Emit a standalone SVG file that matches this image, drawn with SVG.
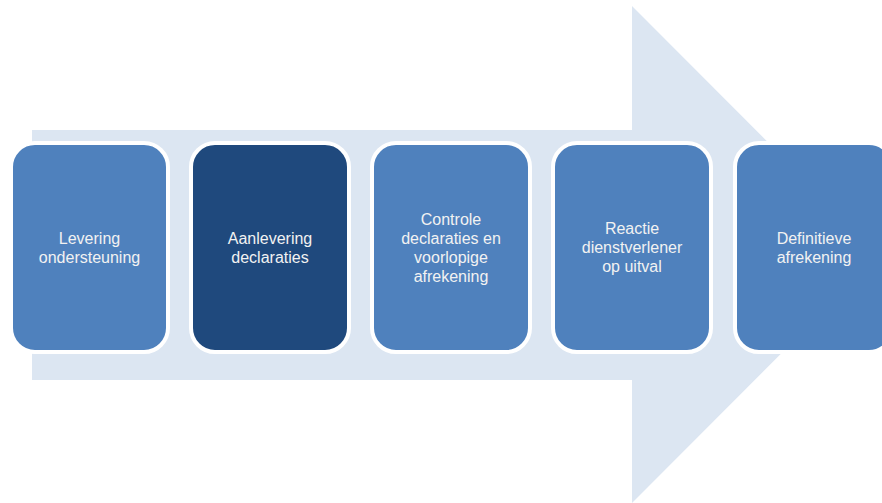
<svg xmlns="http://www.w3.org/2000/svg" width="882" height="503" viewBox="0 0 882 503">
<style>
.box{stroke:#fff;stroke-width:4}
.lt{fill:#4F81BD}
.dk{fill:#1F497D}
text{font-family:"Liberation Sans",Arial,sans-serif;font-size:16px;fill:#F2F2F2;text-anchor:middle}
</style>
<rect width="882" height="503" fill="#fff"/>
<g id="arrow">
<polygon points="32,130 632,130 632,6 880,254.5 632,503 632,380 32,380" fill="#DCE6F2"/>
</g>
<g id="connectors"></g>
<g id="node1">
<rect class="box lt" x="11" y="143" width="157" height="209" rx="24"/>
<text x="89.5" y="244">Levering</text>
<text x="89.5" y="263">ondersteuning</text>
</g>
<g id="node2">
<rect class="box dk" x="191" y="143" width="158" height="209" rx="24"/>
<text x="270" y="244">Aanlevering</text>
<text x="270" y="263">declaraties</text>
</g>
<g id="node3">
<rect class="box lt" x="372" y="143" width="158" height="209" rx="24"/>
<text x="451" y="225">Controle</text>
<text x="451" y="244">declaraties en</text>
<text x="451" y="263">voorlopige</text>
<text x="451" y="282">afrekening</text>
</g>
<g id="node4">
<rect class="box lt" x="553" y="143" width="158" height="209" rx="24"/>
<text x="632" y="234">Reactie</text>
<text x="632" y="253">dienstverlener</text>
<text x="632" y="272">op uitval</text>
</g>
<g id="node5">
<rect class="box lt" x="735" y="143" width="158" height="209" rx="24"/>
<text x="814" y="244">Definitieve</text>
<text x="814" y="263">afrekening</text>
</g>
</svg>
